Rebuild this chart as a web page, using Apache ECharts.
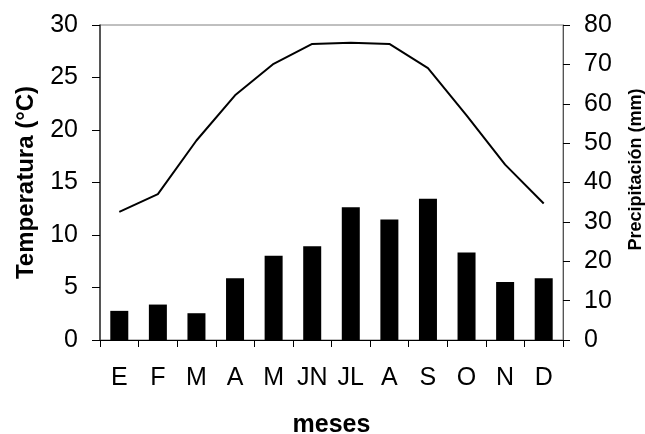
<!DOCTYPE html>
<html>
<head>
<meta charset="utf-8">
<script src="https://cdn.jsdelivr.net/npm/echarts@6/dist/echarts.min.js"></script>
<style>html,body{margin:0;padding:0;background:#fff}#c{width:645px;height:434px}</style>
</head>
<body>
<div id="c"></div>
<script>
var months = ['E','F','M','A','M','JN','JL','A','S','O','N','D'];
var temperature = [12.2, 13.9, 19.0, 23.3, 26.3, 28.2, 28.3, 28.2, 25.9, 21.4, 16.7, 13.0];
var precipitation = [7.4, 9.0, 6.8, 15.7, 21.4, 23.8, 33.7, 30.6, 35.9, 22.2, 14.7, 15.7];
var tempTicks = {min: 0, max: 30, interval: 5};
var precTicks = {min: 0, max: 80, interval: 10};

var font = 'Liberation Sans, Arial, sans-serif';
var chart = echarts.init(document.getElementById('c'), null, {renderer: 'canvas'});
chart.setOption({
  animation: false,
  backgroundColor: '#fff',
  grid: {left: 100, right: 82, top: 25, bottom: 94, show: true, borderColor: '#808080', borderWidth: 1, backgroundColor: 'transparent', containLabel: false, outerBoundsMode: 'none'},
  xAxis: {
    type: 'category',
    data: months,
    boundaryGap: true,
    name: 'meses',
    nameLocation: 'middle',
    nameGap: 73,
    nameTextStyle: {fontFamily: font, fontSize: 25, fontWeight: 'bold', color: '#000'},
    axisLine: {lineStyle: {color: '#000', width: 1}},
    axisTick: {show: true, length: 7, alignWithLabel: false, lineStyle: {color: '#000'}},
    axisLabel: {fontFamily: font, fontSize: 25, color: '#000', margin: 26, interval: 0},
    splitLine: {show: false}
  },
  yAxis: [
    {
      type: 'value',
      min: tempTicks.min, max: tempTicks.max, interval: tempTicks.interval,
      position: 'left',
      name: 'Temperatura (°C)',
      nameLocation: 'middle',
      nameGap: 62,
      nameTextStyle: {fontFamily: font, fontSize: 24, fontWeight: 'bold', color: '#000'},
      axisLine: {show: true, lineStyle: {color: '#333', width: 1.5}},
      axisTick: {show: true, length: 8, lineStyle: {color: '#000'}},
      axisLabel: {fontFamily: font, fontSize: 25, color: '#000', margin: 22},
      splitLine: {show: false}
    },
    {
      type: 'value',
      min: precTicks.min, max: precTicks.max, interval: precTicks.interval,
      position: 'right',
      name: 'Precipitación (mm)',
      nameLocation: 'middle',
      nameGap: 64,
      nameTextStyle: {fontFamily: font, fontSize: 18, fontWeight: 'bold', color: '#000', padding: [0, 0, 0, 26]},
      axisLine: {show: true, lineStyle: {color: '#555', width: 1}},
      axisTick: {show: true, length: 7, lineStyle: {color: '#000'}},
      axisLabel: {fontFamily: font, fontSize: 25, color: '#000', margin: 21},
      splitLine: {show: false}
    }
  ],
  series: [
    {
      type: 'bar',
      yAxisIndex: 1,
      data: precipitation,
      barWidth: 18,
      itemStyle: {color: '#000'}
    },
    {
      type: 'line',
      yAxisIndex: 0,
      data: temperature,
      showSymbol: false,
      symbol: 'none',
      lineStyle: {color: '#000', width: 2},
      z: 3
    }
  ]
});
</script>
</body>
</html>
